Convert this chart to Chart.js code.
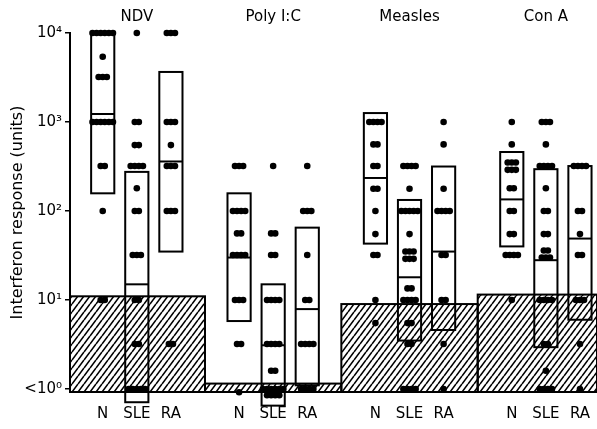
<!DOCTYPE html>
<html>
<head>
<meta charset="utf-8">
<script src="https://cdn.jsdelivr.net/npm/chart.js@4.4.1/dist/chart.umd.min.js"></script>
<style>
  html, body { margin: 0; padding: 0; background: #fff; }
</style>
</head>
<body>
<canvas id="myChart" width="597" height="429"></canvas>
<script>
const stimuli = ['NDV', 'Poly I:C', 'Measles', 'Con A'];
const subjects = ['N', 'SLE', 'RA'];
const positions = [1, 2, 3, 5, 6, 7, 9, 10, 11, 13, 14, 15];
const yTicks = [1, 10, 100, 1000, 10000];
const yTickLabels = ['<10⁰', '10¹', '10²', '10³', '10⁴'];

// interferon units per donor (N, SLE, RA); repeated values sit side by side
const ndvDots = [
  [10000, 10000, 10000, 10000, 10000, 10000, 5400, 3200, 3200, 3200, 1000, 1000, 1000, 1000, 1000, 1000, 320, 320, 100, 10, 10],
  [10000, 1000, 1000, 550, 550, 320, 320, 320, 320, 180, 100, 100, 32, 32, 32, 10, 10, 3.2, 3.2, 1, 1, 1, 1, 1, 0.82, 0.82, 0.82, 0.82],
  [10000, 10000, 10000, 1000, 1000, 1000, 550, 320, 320, 320, 100, 100, 100, 3.2, 3.2]
];
const polyDots = [
  [320, 320, 320, 100, 100, 100, 100, 56, 56, 32, 32, 32, 32, 10, 10, 10, 3.2, 3.2, 0.92],
  [320, 56, 56, 32, 32, 10, 10, 10, 10, 3.2, 3.2, 3.2, 3.2, 1.6, 1.6, 1, 1, 1, 1, 1, 1, 0.85, 0.85, 0.85, 0.85],
  [320, 100, 100, 100, 32, 10, 10, 3.2, 3.2, 3.2, 3.2, 1, 1, 1, 1]
];
const measlesDots = [
  [1000, 1000, 1000, 1000, 560, 560, 320, 320, 178, 178, 100, 55, 32, 32, 10, 5.5],
  [320, 320, 320, 320, 178, 100, 100, 100, 100, 100, 55, 35, 35, 35, 29, 29, 29, 13.5, 13.5, 10, 10, 10, 10, 5.5, 5.5, 3.2, 3.2, 1, 1, 1, 1],
  [1000, 560, 178, 100, 100, 100, 100, 32, 32, 10, 10, 3.2, 1]
];
const conaDots = [
  [1000, 560, 350, 350, 350, 290, 290, 290, 180, 180, 100, 100, 55, 55, 32, 32, 32, 32, 10],
  [1000, 1000, 1000, 560, 320, 320, 320, 320, 180, 100, 100, 55, 55, 36, 36, 30, 30, 30, 10, 10, 10, 10, 3.2, 3.2, 1.6, 1, 1, 1, 1],
  [320, 320, 320, 320, 100, 100, 55, 32, 32, 10, 10, 10, 3.2, 1]
];

// range boxes and medians, same order as positions
const boxLow = [158, 0.71, 35, 5.8, 0.65, 1.1, 43, 3.5, 4.6, 40, 2.95, 6];
const boxMedian = [1230, 15, 360, 30, 3.1, 7.9, 235, 18, 35, 135, 28, 49];
const boxHigh = [10000, 275, 3650, 158, 15, 65, 1260, 133, 316, 460, 295, 320];

// upper limit of the hatched background band per stimulus
const hatchTop = [11, 1.15, 9, 11.5];

const allDots = [ndvDots, polyDots, measlesDots, conaDots].flat();

function spread(values, center) {
  const counts = {};
  values.forEach(v => { counts[v] = (counts[v] || 0) + 1; });
  const seen = {};
  return values.map(v => {
    const i = seen[v] || 0;
    seen[v] = i + 1;
    return { x: center + (i - (counts[v] - 1) / 2) * 0.12, y: v };
  });
}

const points = [];
allDots.forEach((vals, k) => points.push(...spread(vals, positions[k])));

function makeHatch(ctx) {
  const c = document.createElement('canvas');
  c.width = 6;
  c.height = 8;
  const g = c.getContext('2d');
  g.strokeStyle = '#000';
  g.lineWidth = 1.6;
  g.beginPath();
  for (let k = -1; k <= 1; k++) {
    g.moveTo(k * 6, 8);
    g.lineTo(k * 6 + 6, 0);
  }
  g.stroke();
  return ctx.createPattern(c, 'repeat');
}

const boxPlugin = {
  id: 'boxes',
  beforeDatasetsDraw(chart) {
    const ctx = chart.ctx;
    const xs = chart.scales.x;
    const ys = chart.scales.y;
    const area = chart.chartArea;
    const edges = [xs.min];
    for (let g = 1; g < stimuli.length; g++) {
      edges.push((positions[g * 3 - 1] + positions[g * 3]) / 2);
    }
    edges.push(xs.max);

    ctx.save();
    const hatch = makeHatch(ctx);
    hatchTop.forEach((top, g) => {
      const x0 = xs.getPixelForValue(edges[g]);
      const x1 = xs.getPixelForValue(edges[g + 1]);
      const y0 = ys.getPixelForValue(top);
      ctx.fillStyle = hatch;
      ctx.fillRect(x0, y0, x1 - x0, area.bottom - y0);
      ctx.strokeStyle = '#000';
      ctx.lineWidth = 2;
      ctx.strokeRect(x0, y0, x1 - x0, area.bottom - y0);
    });

    ctx.strokeStyle = '#000';
    ctx.lineWidth = 2;
    positions.forEach((p, k) => {
      const x0 = xs.getPixelForValue(p - 0.34);
      const x1 = xs.getPixelForValue(p + 0.34);
      const yl = ys.getPixelForValue(boxLow[k]);
      const yh = ys.getPixelForValue(boxHigh[k]);
      const ym = ys.getPixelForValue(boxMedian[k]);
      ctx.strokeRect(x0, yh, x1 - x0, yl - yh);
      ctx.beginPath();
      ctx.moveTo(x0, ym);
      ctx.lineTo(x1, ym);
      ctx.stroke();
    });
    ctx.restore();
  }
};

const font = { family: '"DejaVu Sans", sans-serif', size: 15 };

function fitX(height) {
  return s => {
    s.height = height;
    s.paddingLeft = 0;
    s.paddingRight = 0;
  };
}

const ctx = document.getElementById('myChart').getContext('2d');
const chart = new Chart(ctx, {
  type: 'scatter',
  data: {
    datasets: [{
      data: points,
      backgroundColor: '#000',
      borderWidth: 0,
      pointRadius: 3.3,
      pointHoverRadius: 3.3,
      clip: false
    }]
  },
  options: {
    responsive: false,
    animation: false,
    devicePixelRatio: 1,
    layout: { padding: 0, autoPadding: false },
    plugins: { legend: { display: false }, tooltip: { enabled: false } },
    scales: {
      x: {
        type: 'linear',
        min: 0.04,
        max: 15.5,
        afterBuildTicks: s => { s.ticks = positions.map(v => ({ value: v })); },
        afterFit: fitX(37),
        grid: { display: false, drawTicks: false },
        border: { display: false },
        ticks: {
          autoSkip: false, maxRotation: 0, padding: 13, color: '#000', font: font,
          callback: (v, i) => subjects[i % 3]
        }
      },
      x2: {
        type: 'linear',
        position: 'top',
        display: true,
        min: 0.04,
        max: 15.5,
        afterBuildTicks: s => { s.ticks = [2, 6, 10, 14].map(v => ({ value: v })); },
        afterFit: fitX(33),
        grid: { display: false, drawTicks: false },
        border: { display: false },
        ticks: {
          autoSkip: false, maxRotation: 0, padding: 7, color: '#000', font: font,
          callback: (v, i) => stimuli[i]
        }
      },
      y: {
        type: 'logarithmic',
        min: 0.925,
        max: 10000,
        afterBuildTicks: s => { s.ticks = yTicks.map(v => ({ value: v })); },
        afterFit: s => { s.width = 70; },
        grid: { drawOnChartArea: false, tickLength: 5, color: '#000', lineWidth: 1.5 },
        border: { color: '#000', width: 2 },
        ticks: {
          padding: 3, color: '#000', font: font,
          callback: (v, i) => yTickLabels[i]
        },
        title: {
          display: true,
          text: 'Interferon response (units)',
          color: '#000',
          font: { family: '"DejaVu Sans", sans-serif', size: 16 },
          padding: { top: 8, bottom: 0 }
        }
      }
    }
  },
  plugins: [boxPlugin]
});
</script>
</body>
</html>
